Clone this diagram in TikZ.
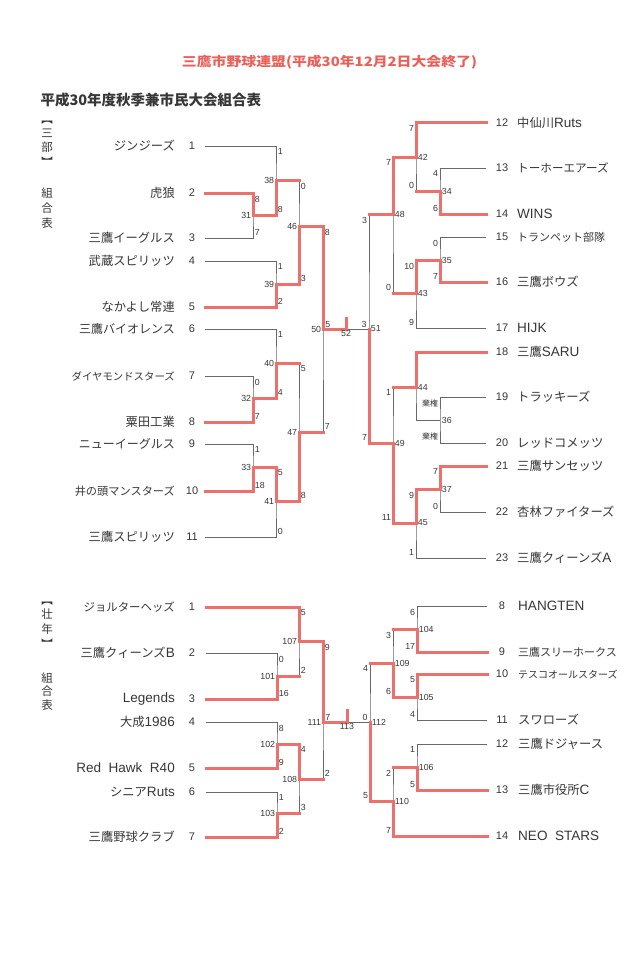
\documentclass[tikz,border=0pt]{standalone}
\usepackage{fontspec}
\setmainfont{Noto Sans CJK JP}
\newfontfamily\lat[Scale=1.1]{Liberation Sans}
\usepackage{graphicx}
\usepackage{tikz}
\usetikzlibrary{positioning}
\usetikzlibrary{calc}
\definecolor{linered}{RGB}{236,112,108}
\definecolor{titlered}{RGB}{234,96,88}
\definecolor{linegray}{RGB}{105,105,105}
\definecolor{textgray}{RGB}{55,55,55}

\begin{document}
\begin{tikzpicture}[x=1pt, y=-1pt,
    gline/.style={draw=linegray, line width=0.8pt},
    rline/.style={draw=linered, line width=3pt, line cap=rect},
    team/.style={text=textgray, inner sep=0pt},
    tnum/.style={text=textgray, inner sep=0pt, font=\lat\fontsize{10}{10}\selectfont},
    score/.style={text=textgray, inner sep=1.2pt, font=\lat\fontsize{8}{8}\selectfont},
    mnum/.style={text=textgray, inner sep=1.2pt, font=\lat\fontsize{8}{8}\selectfont},
    vlabel/.style={text=textgray, align=center, inner sep=0pt}]

  \fill[white] (0,0) rectangle (643,955);
  \useasboundingbox (0,0) rectangle (643,955);

  \node[text=titlered, font=\bfseries\fontsize{13}{13}\selectfont] (title) at (329.5,62)
    {\resizebox{295pt}{\height}{三鷹市野球連盟(平成30年12月2日大会終了)}};
  \node[text=textgray, anchor=west, font=\bfseries\fontsize{14.5}{14.5}\selectfont] (subtitle) at (37,100)
    {平成30年度秋季兼市民大会組合表};

  \node[vlabel, font=\fontsize{11.5}{14.3}\selectfont] (divA) at (47,143.5) {︻\\三\\部\\︼};
  \node[vlabel, font=\fontsize{11.5}{15}\selectfont] (tabA) at (47,208) {組\\合\\表};
  \node[vlabel, font=\fontsize{11.5}{14.7}\selectfont] (divB) at (47,625) {︻\\壮\\年\\︼};
  \node[vlabel, font=\fontsize{11.5}{13.5}\selectfont] (tabB) at (47,691.5) {組\\合\\表};

  % teams, left
  \foreach \y/\num/\name/\fs in {146/1/ジンジーズ/12.3, 193/2/虎狼/12.3, 238/3/三鷹イーグルス/12.3,
      261/4/武蔵スピリッツ/12.3, 307/5/なかよし常連/12.3, 329/6/三鷹バイオレンス/12,
      376/7/ダイヤモンドスターズ/10.4, 422/8/粟田工業/12.3, 444/9/ニューイーグルス/12,
      491/10/井の頭マンスターズ/11.2, 537/11/三鷹スピリッツ/12.3} {
    \coordinate (L\num) at (205,\y);
    \node[team, anchor=east, font=\fontsize{\fs}{\fs}\selectfont] (lname\num) at (175,\y) {\name};
    \node[tnum] (lnum\num) at (192,\y) {\num};
  }
  % teams, right
  \foreach \y/\num/\name/\fs in {123/12/中仙川{\lat Ruts}/12.3, 168/13/トーホーエアーズ/11.6, 214/14/{\lat WINS}/12.3,
      237/15/トランペット部隊/11, 282/16/三鷹ボウズ/12.3, 328/17/{\lat HIJK}/12.3,
      352/18/三鷹{\lat SARU}/12.3, 397/19/トラッキーズ/12.3, 443/20/レッドコメッツ/12.3,
      466/21/三鷹サンセッツ/12.3, 512/22/杏林ファイターズ/12.3, 558/23/三鷹クィーンズ{\lat A}/12.3} {
    \coordinate (R\num) at (486,\y);
    \node[team, anchor=west, font=\fontsize{\fs}{\fs}\selectfont] (rname\num) at (517,\y) {\name};
    \node[tnum] (rnum\num) at (502,\y) {\num};
  }
  % teams, lower left
  \foreach \y/\num/\name/\fs in {607/1/ジョルターヘッズ/11.4, 653/2/三鷹クィーンズ{\lat B}/12.3, 699/3/{\lat Legends}/12.3,
      722/4/大成{\lat 1986}/12.3, 768/5/{\lat Red\ \ Hawk\ \ R40}/12.3, 792/6/シニア{\lat Ruts}/12.3,
      837/7/三鷹野球クラブ/12.3} {
    \coordinate (P\num) at (206,\y);
    \node[team, anchor=east, font=\fontsize{\fs}{\fs}\selectfont] (pname\num) at (175,\y) {\name};
    \node[tnum] (pnum\num) at (192,\y) {\num};
  }
  % teams, lower right
  \foreach \y/\num/\name/\fs in {606/8/{\lat HANGTEN}/12.3, 652/9/三鷹スリーホークス/11, 674/10/テスコオールスターズ/10,
      720/11/スワローズ/12.3, 744/12/三鷹ドジャース/12.3, 790/13/三鷹市役所{\lat C}/12.3,
      836/14/{\lat NEO\ \ STARS}/12.3} {
    \coordinate (Q\num) at (487,\y);
    \node[team, anchor=west, font=\fontsize{\fs}{\fs}\selectfont] (qname\num) at (518,\y) {\name};
    \node[tnum] (qnum\num) at (502,\y) {\num};
  }

  % match points
  \foreach \m/\x/\y in {31/253/215, 38/276/180, 39/276/284, 46/299/226, 32/253/398, 40/276/363,
      33/253/467, 41/276/501, 47/299/432, 50/323/329,
      34/440/191, 42/416/157, 35/440/260, 43/416/293, 48/393/214, 36/440/420, 44/416/387,
      37/440/489, 45/416/523, 49/393/443, 51/369/329,
      101/277/676, 107/299/641, 102/277/744, 103/277/813, 108/299/779, 111/323/722,
      104/417/629, 105/417/697, 109/393/663, 106/417/767, 110/393/801, 112/370/722}
    \coordinate (m\m) at (\x,\y);
  \coordinate (m52) at (346,329);
  \coordinate (m113) at (347,722);

  % brackets
  \foreach \m/\a/\b in {31/L2/L3, 38/L1/m31, 39/L4/L5, 46/m38/m39, 32/L7/L8, 40/L6/m32, 33/L9/L10,
      41/m33/L11, 47/m40/m41, 50/m46/m47, 34/R13/R14, 42/R12/m34, 35/R15/R16, 43/m35/R17,
      48/m42/m43, 36/R19/R20, 44/R18/m36, 37/R21/R22, 45/m37/R23, 49/m44/m45, 51/m48/m49,
      101/P2/P3, 107/P1/m101, 102/P4/P5, 103/P6/P7, 108/m102/m103, 111/m107/m108,
      104/Q8/Q9, 105/Q10/Q11, 109/m104/m105, 106/Q12/Q13, 110/m106/Q14, 112/m109/m110}
    \draw[gline] (\a) -| (m\m) |- (\b);
  \draw[gline] (m50) -- (m51);
  \draw[gline] (m111) -- (m112);

  % winners
  \foreach \w/\m in {L2/31, m31/38, L5/39, m39/46, L8/32, m32/40, L10/33, m33/41, m41/47, m46/50,
      R14/34, R12/42, R16/35, m35/43, m42/48, R18/44, R21/37, m37/45, m45/49, m49/51,
      P3/101, P1/107, P5/102, P7/103, m102/108, m107/111,
      Q9/104, Q10/105, m105/109, Q13/106, Q14/110, m110/112}
    \draw[rline] (\w) -| (m\m);
  \foreach \c/\m in {m38/46, m40/47, m47/50, m34/42, m43/48, m44/49, m48/51,
      m101/107, m103/108, m108/111, m104/109, m106/110, m109/112}
    \draw[rline] (\c) -- (\c -| m\m);
  \draw[rline] (m50) -- (m52) -- ++(0,-11);
  \draw[rline] (m111) -- (m113) -- ++(0,-12);

  % scores
  \foreach \m/\a/\b/\sa/\sb in {31/L2/L3/8/7, 38/L1/m31/1/8, 39/L4/L5/1/2, 46/m38/m39/0/3,
      32/L7/L8/0/7, 40/L6/m32/1/4, 33/L9/L10/1/18, 41/m33/L11/5/0, 47/m40/m41/5/8, 50/m46/m47/8/7,
      101/P2/P3/0/16, 107/P1/m101/5/2, 102/P4/P5/8/9, 103/P6/P7/1/2, 108/m102/m103/4/3, 111/m107/m108/9/2} {
    \node[score, anchor=north west, xshift=0.5pt, yshift=-1.5pt] (sa\m) at (m\m |- \a) {\sa};
    \node[score, anchor=south west, xshift=0.5pt, yshift=1.5pt] (sb\m) at (m\m |- \b) {\sb};
    \node[mnum, anchor=east, xshift=-0.5pt] (n\m) at (m\m) {\m};
  }
  \foreach \m/\a/\b/\sa/\sb in {34/R13/R14/4/6, 42/R12/m34/7/0, 35/R15/R16/0/7, 43/m35/R17/10/9,
      48/m42/m43/7/0, 36/R19/R20/{\normalfont 棄権}/{\normalfont 棄権}, 37/R21/R22/7/0, 45/m37/R23/9/1,
      49/m44/m45/1/11, 51/m48/m49/3/7, 104/Q8/Q9/6/17, 105/Q10/Q11/5/4, 109/m104/m105/3/6,
      106/Q12/Q13/1/5, 110/m106/Q14/2/7, 112/m109/m110/4/5} {
    \node[score, anchor=north east, xshift=-0.5pt, yshift=-1.5pt] (sa\m) at (m\m |- \a) {\sa};
    \node[score, anchor=south east, xshift=-0.5pt, yshift=1.5pt] (sb\m) at (m\m |- \b) {\sb};
    \node[mnum, anchor=west, xshift=0.5pt] (n\m) at (m\m) {\m};
  }
  \node[mnum, anchor=west, xshift=0.5pt] (n44) at (m44) {44};

  % finals
  \node[mnum, anchor=north] (n52) at (m52) {52};
  \node[score, anchor=south west, xshift=1pt] (f50) at (m50) {5};
  \node[score, anchor=south east, xshift=-1pt] (f51) at (m51) {3};
  \node[mnum, anchor=north] (n113) at (m113) {113};
  \node[score, anchor=south west, xshift=1pt] (f111) at (m111) {7};
  \node[score, anchor=south east, xshift=-1pt] (f112) at (m112) {0};
\end{tikzpicture}
\end{document}
